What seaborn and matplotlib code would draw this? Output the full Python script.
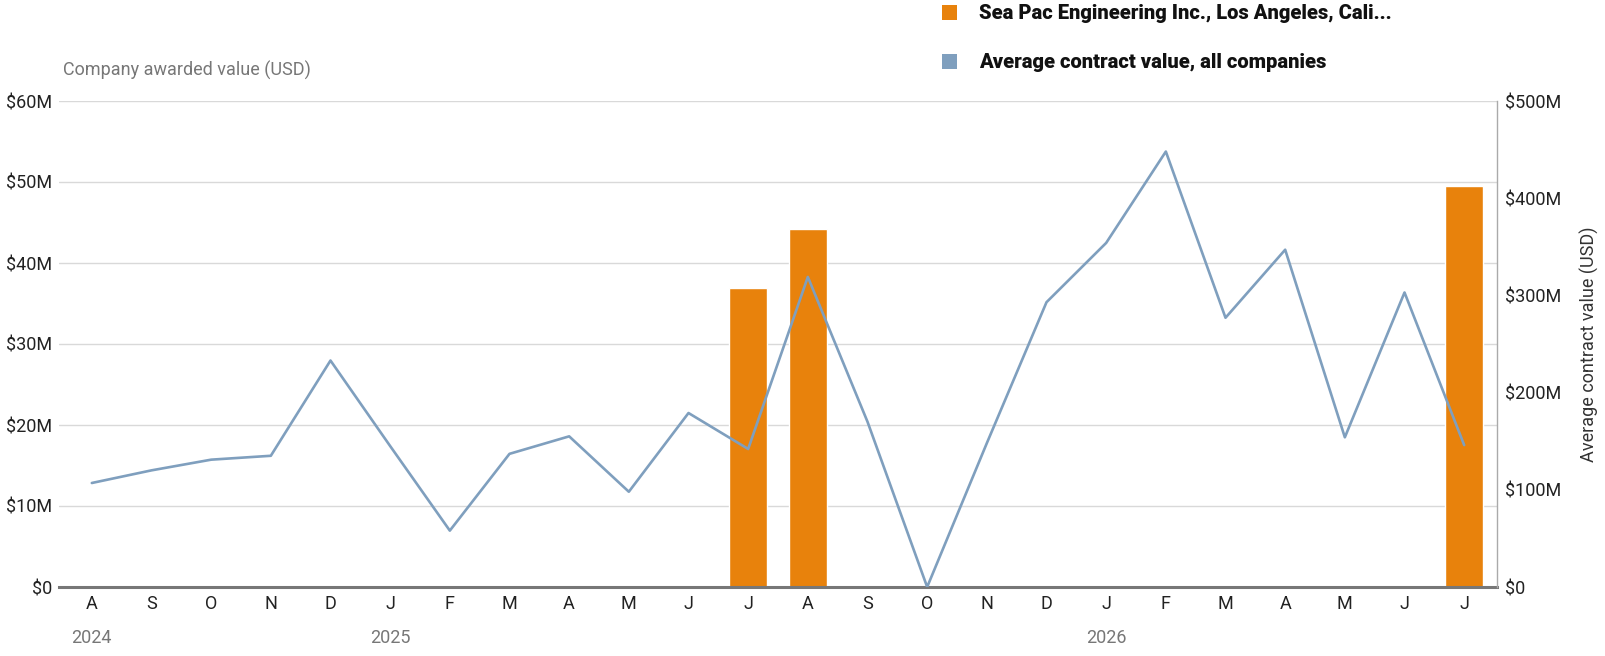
import matplotlib
matplotlib.use("Agg")
import matplotlib.pyplot as plt
from matplotlib.patches import Patch
from matplotlib.ticker import FuncFormatter
import seaborn as sns
import numpy as np
import pandas as pd

# ---------------------------
# DATA (values in millions of USD)
# ---------------------------
periods = ["2024-08", "2024-09", "2024-10", "2024-11", "2024-12",
           "2025-01", "2025-02", "2025-03", "2025-04", "2025-05", "2025-06",
           "2025-07", "2025-08", "2025-09", "2025-10", "2025-11", "2025-12",
           "2026-01", "2026-02", "2026-03", "2026-04", "2026-05", "2026-06",
           "2026-07"]
month_labels = ["A", "S", "O", "N", "D", "J", "F", "M", "A", "M", "J", "J",
                "A", "S", "O", "N", "D", "J", "F", "M", "A", "M", "J", "J"]
company_awarded = [0, 0, 0, 0, 0, 0, 0, 0, 0, 0, 0, 36.9,
                   44.2, 0, 0, 0, 0, 0, 0, 0, 0, 0, 0, 49.5]
avg_contract = [107, 120, 131, 135, 233, 145, 58, 137, 155, 98, 179, 142,
                319, 170, 0, 148, 293, 354, 448, 277, 347, 154, 303, 146]
year_labels = ["2024", "2025", "2026"]
year_starts = ["2024-08", "2025-01", "2026-01"]

company_name = "Sea Pac Engineering Inc., Los Angeles, Cali..."
avg_name = "Average contract value, all companies"

ORANGE = "#e8820c"
BLUE = "#7f9fbe"

df = pd.DataFrame({"period": periods, "company": company_awarded, "avg": avg_contract})
df["pos"] = np.arange(len(df))

sns.set_theme(style="white")
plt.rcParams["font.family"] = ["Roboto", "DejaVu Sans"]

fig = plt.figure(figsize=(16.06, 6.56), dpi=100)
ax = fig.add_axes([59 / 1606, 69 / 656, (1497 - 59) / 1606, (587 - 101) / 656])

# ---------------------------
# BARS (left axis)
# ---------------------------
sns.barplot(data=df, x="period", y="company", order=periods, color=ORANGE,
            saturation=1, width=0.64, ax=ax, zorder=2)
ax.set_ylim(0, 60)
ax.set_yticks(np.arange(0, 61, 10))
ax.yaxis.set_major_formatter(FuncFormatter(lambda v, p: "$0" if v == 0 else f"${v:.0f}M"))
ax.grid(axis="y", color="#d9d9d9", linewidth=1.0, zorder=0)
ax.set_axisbelow(True)
ax.set_xlim(-0.55, 23.55)
ax.set_xticks(df["pos"])
ax.set_xticklabels(month_labels)
ax.set_xlabel("")
ax.set_ylabel("")
ax.tick_params(axis="both", length=0, labelsize=13, colors="#222222")
ax.tick_params(axis="y", pad=5)
ax.tick_params(axis="x", pad=6)

for s in ["left", "top", "right"]:
    ax.spines[s].set_visible(False)
ax.spines["bottom"].set_color("#777777")
ax.spines["bottom"].set_linewidth(2.2)
ax.spines["bottom"].set_zorder(5)

# ---------------------------
# LINE (right axis)
# ---------------------------
ax2 = ax.twinx()
sns.lineplot(data=df, x="pos", y="avg", color=BLUE, linewidth=1.9, ax=ax2, zorder=3)
ax2.set_ylim(0, 500)
ax2.set_yticks(np.arange(0, 501, 100))
ax2.yaxis.set_major_formatter(FuncFormatter(lambda v, p: "$0" if v == 0 else f"${v:.0f}M"))
ax2.set_xlim(-0.55, 23.55)
ax2.set_xlabel("")
ax2.set_ylabel("Average contract value (USD)", fontsize=13, color="#333333", labelpad=13)
ax2.tick_params(axis="y", length=0, labelsize=13, colors="#222222", pad=6)
ax2.grid(False)
for s in ["left", "top", "bottom"]:
    ax2.spines[s].set_visible(False)
ax2.spines["right"].set_color("#aaaaaa")
ax2.spines["right"].set_linewidth(1.0)

# year labels under the month letters
for yl, ys in zip(year_labels, year_starts):
    ax.text(periods.index(ys), -0.105, yl, transform=ax.get_xaxis_transform(),
            ha="center", va="center", fontsize=13, color="#777777")

# left axis title
fig.text(63 / 1606, 1 - 70 / 656, "Company awarded value (USD)", ha="left", va="center",
         fontsize=13, color="#777777")

# legend
handles = [Patch(facecolor=ORANGE, edgecolor="none", label=company_name),
           Patch(facecolor=BLUE, edgecolor="none", label=avg_name)]
leg = fig.legend(handles=handles, loc="upper left", bbox_to_anchor=(930 / 1606, 1.012),
                 frameon=False, handlelength=0.75, handleheight=0.75, handletextpad=1.1,
                 labelspacing=1.5, borderaxespad=0.2,
                 prop={"family": ["Roboto", "DejaVu Sans"], "weight": "heavy", "size": 14.5})
for t in leg.get_texts():
    t.set_color("#111111")

fig.savefig("out.png", dpi=100)
